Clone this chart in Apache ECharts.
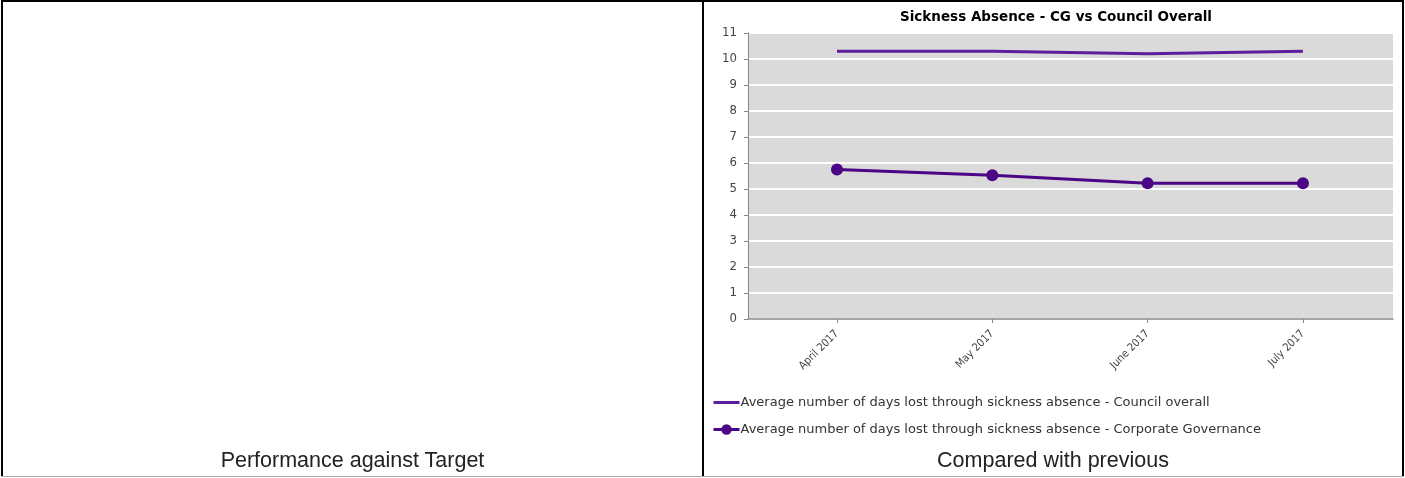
<!DOCTYPE html>
<html>
<head>
<meta charset="utf-8">
<script src="https://cdn.jsdelivr.net/npm/echarts@6/dist/echarts.min.js"></script>
<style>
  html, body { margin: 0; padding: 0; background: #fff; }
  body { width: 1405px; height: 478px; position: relative; overflow: hidden; }
  #chart { position: absolute; left: 0; top: 0; width: 1405px; height: 478px; }
  .frame { position: absolute; background: #000; }
  .caption {
    position: absolute; top: 448px; font-family: "Liberation Sans", Arial, sans-serif;
    font-size: 21.5px; color: #222; text-align: center; line-height: 24px;
  }
</style>
</head>
<body>
<div id="chart"></div>
<!-- table cell borders -->
<div class="frame" style="left:1px;top:0;width:1403px;height:2px;"></div>
<div class="frame" style="left:1px;top:0;width:2px;height:477px;"></div>
<div class="frame" style="left:1402px;top:0;width:2px;height:477px;"></div>
<div class="frame" style="left:702px;top:0;width:2px;height:477px;"></div>
<div class="frame" style="left:1px;top:476px;width:1403px;height:1px;background:#aaa;"></div>
<div class="caption" style="left:3px;width:699px;">Performance against Target</div>
<div class="caption" style="left:704px;width:698px;">Compared with previous</div>
<script>
// Months on the horizontal axis
const months = ['April 2017', 'May 2017', 'June 2017', 'July 2017'];
// Average days lost per employee
const councilOverall = [10.3, 10.3, 10.2, 10.3];
const corporateGovernance = [5.75, 5.53, 5.22, 5.22];
// Vertical axis ticks
const yTicks = [0, 1, 2, 3, 4, 5, 6, 7, 8, 9, 10, 11];

const seriesNames = [
  'Average number of days lost through sickness absence - Council overall',
  'Average number of days lost through sickness absence - Corporate Governance'
];

const toPoints = arr => arr.map((v, i) => [i, v]);
const monthIdx = months.map((m, i) => i);
const condensed = '"DejaVu Sans Condensed", "DejaVu Sans", sans-serif';
const regular = '"DejaVu Sans", sans-serif';

const chart = echarts.init(document.getElementById('chart'), null, { renderer: 'canvas' });
chart.setOption({
  animation: false,
  title: {
    text: 'Sickness Absence - CG vs Council Overall',
    left: 1056, top: 10, textAlign: 'center', padding: 0,
    textStyle: { fontFamily: regular, fontSize: 13.5, fontWeight: 'bold', color: '#000' }
  },
  grid: {
    left: 748, right: 12, top: 33, bottom: 159,
    show: true, backgroundColor: '#dadada', borderWidth: 0
  },
  xAxis: {
    type: 'value',
    min: -0.573, max: 3.58,
    splitLine: { show: false },
    axisLine: { show: true, onZero: false, lineStyle: { color: '#888', width: 1.5 } },
    axisTick: { show: true, customValues: monthIdx, length: 4, lineStyle: { color: '#888' } },
    axisLabel: {
      customValues: monthIdx,
      rotate: 45, margin: 13,
      fontFamily: condensed, fontSize: 11, color: '#444',
      formatter: v => months[Math.round(v)]
    }
  },
  yAxis: {
    type: 'value',
    min: yTicks[0], max: yTicks[yTicks.length - 1], interval: 1,
    axisLine: { show: true, onZero: false, lineStyle: { color: '#888', width: 1 } },
    axisTick: { show: true, length: 4, lineStyle: { color: '#888' } },
    axisLabel: { fontFamily: condensed, fontSize: 13, color: '#444', margin: 11 },
    splitLine: { show: true, lineStyle: { color: '#fff', width: 2 } }
  },
  legend: {
    orient: 'vertical', left: 712, top: 396, padding: 0,
    itemWidth: 26, itemHeight: 13, itemGap: 14,
    lineStyle: { width: 3 },
    textStyle: { fontFamily: regular, fontSize: 13, color: '#333', padding: [0, 0, 0, -4] },
    data: [
      { name: seriesNames[0], itemStyle: { opacity: 0 } },
      { name: seriesNames[1] }
    ]
  },
  series: [
    {
      name: seriesNames[0], type: 'line', symbol: 'none',
      data: toPoints(councilOverall),
      lineStyle: { color: '#5c1f9c', width: 3 }, itemStyle: { color: '#5c1f9c' }
    },
    {
      name: seriesNames[1], type: 'line', symbol: 'circle', symbolSize: 12,
      data: toPoints(corporateGovernance),
      lineStyle: { color: '#4b0585', width: 3 }, itemStyle: { color: '#4b0585' }
    }
  ]
});
</script>
</body>
</html>
